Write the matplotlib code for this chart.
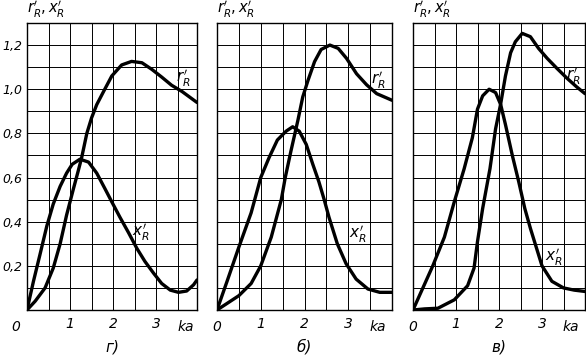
import matplotlib
matplotlib.use("Agg")
import matplotlib.pyplot as plt
import numpy as np

# ---- data ----
# panel г)
g_r_x = [0, 0.19, 0.42, 0.61, 0.77, 0.92, 1.08, 1.19, 1.27, 1.39, 1.50, 1.62, 1.78, 1.97, 2.20, 2.43, 2.67, 2.90, 3.13, 3.36, 3.60, 3.95]
g_r_y = [0, 0.04, 0.10, 0.19, 0.30, 0.43, 0.55, 0.63, 0.69, 0.80, 0.87, 0.93, 0.99, 1.06, 1.11, 1.126, 1.12, 1.09, 1.055, 1.018, 0.99, 0.94]
g_x_x = [0, 0.15, 0.30, 0.46, 0.61, 0.77, 0.92, 1.05, 1.23, 1.43, 1.62, 1.81, 1.97, 2.16, 2.36, 2.55, 2.74, 2.94, 3.13, 3.33, 3.52, 3.71, 3.87, 3.95]
g_x_y = [0, 0.13, 0.25, 0.38, 0.48, 0.56, 0.62, 0.66, 0.683, 0.67, 0.62, 0.55, 0.49, 0.42, 0.35, 0.28, 0.22, 0.167, 0.12, 0.09, 0.08, 0.086, 0.114, 0.136]

# panel б)
b_r_x = [0, 0.27, 0.5, 0.78, 1.0, 1.24, 1.47, 1.56, 1.69, 1.85, 1.96, 2.08, 2.23, 2.38, 2.58, 2.77, 2.96, 3.19, 3.42, 3.65, 4.0]
b_r_y = [0, 0.035, 0.065, 0.12, 0.2, 0.33, 0.50, 0.60, 0.72, 0.86, 0.965, 1.04, 1.125, 1.18, 1.20, 1.185, 1.14, 1.07, 1.02, 0.98, 0.95]
b_x_x = [0, 0.23, 0.5, 0.78, 1.0, 1.19, 1.38, 1.58, 1.73, 1.88, 2.04, 2.19, 2.33, 2.45, 2.56, 2.75, 2.95, 3.18, 3.45, 3.72, 4.0]
b_x_y = [0, 0.13, 0.285, 0.44, 0.6, 0.69, 0.77, 0.81, 0.83, 0.81, 0.75, 0.66, 0.58, 0.50, 0.42, 0.30, 0.21, 0.14, 0.095, 0.08, 0.08]

# panel в)
v_r_x = [0, 0.27, 0.58, 0.96, 1.27, 1.42, 1.5, 1.62, 1.79, 1.92, 2.04, 2.15, 2.27, 2.38, 2.54, 2.73, 2.92, 3.12, 3.35, 3.58, 3.81, 4.0]
v_r_y = [0, 0.005, 0.008, 0.046, 0.11, 0.19, 0.31, 0.46, 0.64, 0.82, 0.935, 1.06, 1.165, 1.215, 1.253, 1.238, 1.185, 1.14, 1.094, 1.05, 1.01, 0.98]
v_x_x = [0, 0.23, 0.46, 0.73, 0.96, 1.19, 1.38, 1.5, 1.62, 1.77, 1.92, 2.04, 2.15, 2.31, 2.46, 2.60, 2.73, 3.0, 3.23, 3.5, 3.75, 4.0]
v_x_y = [0, 0.10, 0.20, 0.33, 0.49, 0.64, 0.78, 0.91, 0.97, 1.0, 0.985, 0.93, 0.84, 0.70, 0.58, 0.46, 0.37, 0.20, 0.13, 0.10, 0.09, 0.084]

y_ticks = [0.2, 0.4, 0.6, 0.8, 1.0, 1.2]
y_tick_labels = ["0,2", "0,4", "0,6", "0,8", "1,0", "1,2"]
x_ticks = [1, 2, 3]
x_tick_labels = ["1", "2", "3"]
panel_names = ["г)", "б)", "в)"]

# label positions (data coords) for curve names
r_lab = [(3.64, 1.05), (3.68, 1.04), (3.73, 1.06)]
x_lab = [(2.64, 0.35), (3.22, 0.34), (3.27, 0.24)]

panels = [
    (g_r_x, g_r_y, g_x_x, g_x_y),
    (b_r_x, b_r_y, b_x_x, b_x_y),
    (v_r_x, v_r_y, v_x_x, v_x_y),
]

W, H = 586, 356
boxes = [(27, 197), (217, 392), (413, 585)]
top_px, bot_px = 23, 310
xmax = [3.95, 4.0, 4.0]

fig = plt.figure(figsize=(W / 100, H / 100), dpi=100)
fig.patch.set_facecolor("white")

tfont = dict(family="DejaVu Sans", style="italic", fontsize=10)
yfont = dict(family="DejaVu Sans", style="italic", fontsize=9)

for i, (rx, ry, xx, xy) in enumerate(panels):
    l, r = boxes[i]
    ax = fig.add_axes([l / W, (H - bot_px) / H, (r - l) / W, (bot_px - top_px) / H])
    ax.set_xlim(0, xmax[i])
    ax.set_ylim(0, 1.3)
    ax.set_xticks(np.arange(0.5, 4.0, 0.5), minor=True)
    ax.set_yticks(np.arange(0.1, 1.3, 0.1), minor=True)
    ax.set_xticks(x_ticks)
    ax.set_xticklabels(x_tick_labels, **tfont)
    if i == 0:
        ax.set_yticks(y_ticks)
        ax.set_yticklabels(y_tick_labels, **yfont)
        ax.tick_params(axis="y", pad=3)
    else:
        ax.set_yticks([])
    ax.grid(which="both", color="black", linewidth=0.7)
    ax.set_axisbelow(True)
    ax.tick_params(which="both", length=0)
    ax.tick_params(axis="x", pad=5)
    for s in ax.spines.values():
        s.set_linewidth(1.0)

    ax.plot(rx, ry, color="black", lw=2.4, solid_capstyle="round", solid_joinstyle="round")
    ax.plot(xx, xy, color="black", lw=2.4, solid_capstyle="round", solid_joinstyle="round")

    ax.text(r_lab[i][0], r_lab[i][1], r"$r_R'$", fontsize=11, ha="center", va="center")
    ax.text(x_lab[i][0], x_lab[i][1], r"$x_R'$", fontsize=11, ha="center", va="center")

    # x-axis end labels
    x0 = -0.26 if i == 0 else 0.0
    ax.text(x0, -0.045, "0", ha="center", va="top", transform=ax.transData, **tfont)
    ax.text(3.68, -0.045, "ka", ha="center", va="top", transform=ax.transData, **tfont)

    # axis title above
    ax.text(0.0, 1.012, r"$r_R', x_R'$", transform=ax.transAxes, fontsize=10.5, ha="left", va="bottom")

    # panel name
    fig.text(((l + r) / 2) / W, 1 - 347 / H, panel_names[i], ha="center", va="center",
             family="DejaVu Sans", style="italic", fontsize=11)

fig.savefig("out.png", dpi=100, facecolor="white")
